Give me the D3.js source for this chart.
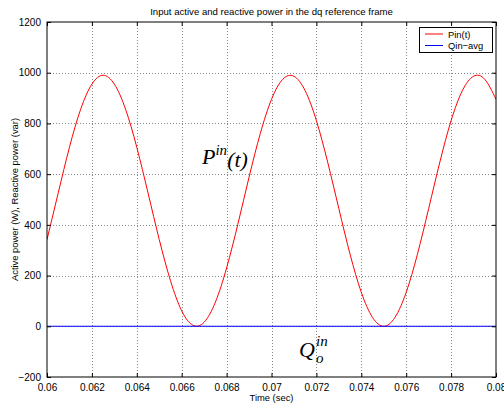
<!DOCTYPE html>
<html>
<head>
<meta charset="utf-8">
<script src="https://cdn.jsdelivr.net/npm/d3@7"></script>
<style>
  body { margin: 0; background: #fff; }
  svg { display: block; }
  .tick text { font-family: "Liberation Sans", Arial, sans-serif; font-size: 10px; fill: #000; }
</style>
</head>
<body>
<svg id="chart" width="504" height="404"></svg>
<script>
// time samples (sec) and values
var times = d3.range(41).map(function(k) { return 0.06 + k * 0.0005; });
var pin = [342, 526, 706, 856, 955, 990, 955, 856, 706, 526,
           342, 180, 61, 4, 16, 95, 230, 402, 588, 760,
           895, 974, 986, 929, 811, 648, 464, 284, 134, 35,
           0, 35, 134, 284, 464, 648, 811, 929, 986, 974, 895];
var qinTimes = [0.06, 0.08];
var qin = [0, 0];

var xTicks = [0.06, 0.062, 0.064, 0.066, 0.068, 0.07, 0.072, 0.074, 0.076, 0.078, 0.08];
var yTicks = [-200, 0, 200, 400, 600, 800, 1000, 1200];
var legendNames = ['Pin(t)', 'Qin\u2212avg'];
var colors = ['#ff0000', '#0000ff'];

var margin = {left: 47, right: 8, top: 22, bottom: 27};
var W = 504, H = 404;
var svg = d3.select('#chart');

var x = d3.scaleLinear().domain([0.06, 0.08]).range([margin.left, W - margin.right]);
var y = d3.scaleLinear().domain([-200, 1200]).range([H - margin.bottom, margin.top]);

var x0 = x.range()[0], x1 = x.range()[1], y0 = y.range()[0], y1 = y.range()[1];

// grid
var grid = svg.append('g').attr('stroke', '#888').attr('stroke-dasharray', '1,2').attr('stroke-width', 1);
xTicks.slice(1, -1).forEach(function(t) {
  grid.append('line').attr('x1', Math.round(x(t)) + 0.5).attr('x2', Math.round(x(t)) + 0.5)
    .attr('y1', y1).attr('y2', y0);
});
yTicks.slice(1, -1).forEach(function(t) {
  grid.append('line').attr('y1', Math.round(y(t)) + 0.5).attr('y2', Math.round(y(t)) + 0.5)
    .attr('x1', x0).attr('x2', x1);
});

// lines
svg.append('defs').append('clipPath').attr('id', 'clip')
  .append('rect').attr('x', x0).attr('y', y1).attr('width', x1 - x0).attr('height', y0 - y1);

var line = d3.line().curve(d3.curveNatural);
svg.append('path')
  .attr('clip-path', 'url(#clip)')
  .attr('d', line(times.map(function(t, i) { return [x(t), y(pin[i])]; })))
  .attr('fill', 'none').attr('stroke', colors[0]).attr('stroke-width', 1);
svg.append('path')
  .attr('d', d3.line()(qinTimes.map(function(t, i) { return [x(t), y(qin[i])]; })))
  .attr('fill', 'none').attr('stroke', colors[1]).attr('stroke-width', 1.1);

// axes
var fmt = function(d) { return String(+d.toFixed(3)); };
var yfmt = function(d) { return d < 0 ? '\u2212' + Math.abs(d) : String(d); };

svg.append('g').attr('transform', 'translate(0,' + y0 + ')')
  .call(d3.axisBottom(x).tickValues(xTicks).tickFormat(fmt).tickSizeInner(-4).tickSizeOuter(0).tickPadding(7))
  .call(function(g) { g.select('.domain').remove(); g.selectAll('.tick line').attr('stroke', '#000'); });
svg.append('g').attr('transform', 'translate(0,' + y1 + ')')
  .call(d3.axisTop(x).tickValues(xTicks).tickFormat('').tickSizeInner(-4).tickSizeOuter(0))
  .call(function(g) { g.select('.domain').remove(); });
svg.append('g').attr('transform', 'translate(' + x0 + ',0)')
  .call(d3.axisLeft(y).tickValues(yTicks).tickFormat(yfmt).tickSizeInner(-4).tickSizeOuter(0).tickPadding(6))
  .call(function(g) { g.select('.domain').remove(); });
svg.append('g').attr('transform', 'translate(' + x1 + ',0)')
  .call(d3.axisRight(y).tickValues(yTicks).tickFormat('').tickSizeInner(-4).tickSizeOuter(0))
  .call(function(g) { g.select('.domain').remove(); });

svg.append('rect').attr('x', x0).attr('y', y1).attr('width', x1 - x0).attr('height', y0 - y1)
  .attr('fill', 'none').attr('stroke', '#000').attr('stroke-width', 1);

// titles
var sans = '"Liberation Sans", Arial, sans-serif';
svg.append('text').attr('x', (x0 + x1) / 2).attr('y', 15).attr('text-anchor', 'middle')
  .attr('font-family', sans).attr('font-size', 9.6).text('Input active and reactive power in the dq reference frame');
svg.append('text').attr('x', (x0 + x1) / 2).attr('y', 401).attr('text-anchor', 'middle')
  .attr('font-family', sans).attr('font-size', 9.4).text('Time (sec)');
svg.append('text').attr('transform', 'translate(18,' + ((y0 + y1) / 2) + ') rotate(-90)')
  .attr('text-anchor', 'middle').attr('font-family', sans).attr('font-size', 9.4)
  .text('Active power (W),  Reactive power (var)');

// legend
var lg = svg.append('g');
lg.append('rect').attr('x', 419.5).attr('y', 27.5).attr('width', 73).attr('height', 25)
  .attr('fill', '#fff').attr('stroke', '#000').attr('stroke-width', 1);
legendNames.forEach(function(n, i) {
  var ly = 34 + i * 11.5;
  lg.append('line').attr('x1', 425).attr('x2', 443).attr('y1', ly).attr('y2', ly)
    .attr('stroke', colors[i]).attr('stroke-width', 1);
  lg.append('text').attr('x', 448).attr('y', ly + 3.5).attr('font-family', sans).attr('font-size', 9.4).text(n);
});

// annotations
var serif = '"Liberation Serif", "Times New Roman", serif';
var p = svg.append('text').attr('font-family', serif).attr('font-style', 'italic').attr('font-size', 22)
  .attr('x', 202).attr('y', 164);
p.append('tspan').text('P');
p.append('tspan').attr('font-size', 15).attr('dy', -9).text('in');
p.append('tspan').attr('dy', 12).text('(t)');

var q = svg.append('g').attr('font-family', serif).attr('font-style', 'italic');
q.append('text').attr('x', 299).attr('y', 357).attr('font-size', 22).text('Q');
q.append('text').attr('x', 316).attr('y', 346).attr('font-size', 15).text('in');
q.append('text').attr('x', 316).attr('y', 363).attr('font-size', 15).text('o');
</script>
</body>
</html>
